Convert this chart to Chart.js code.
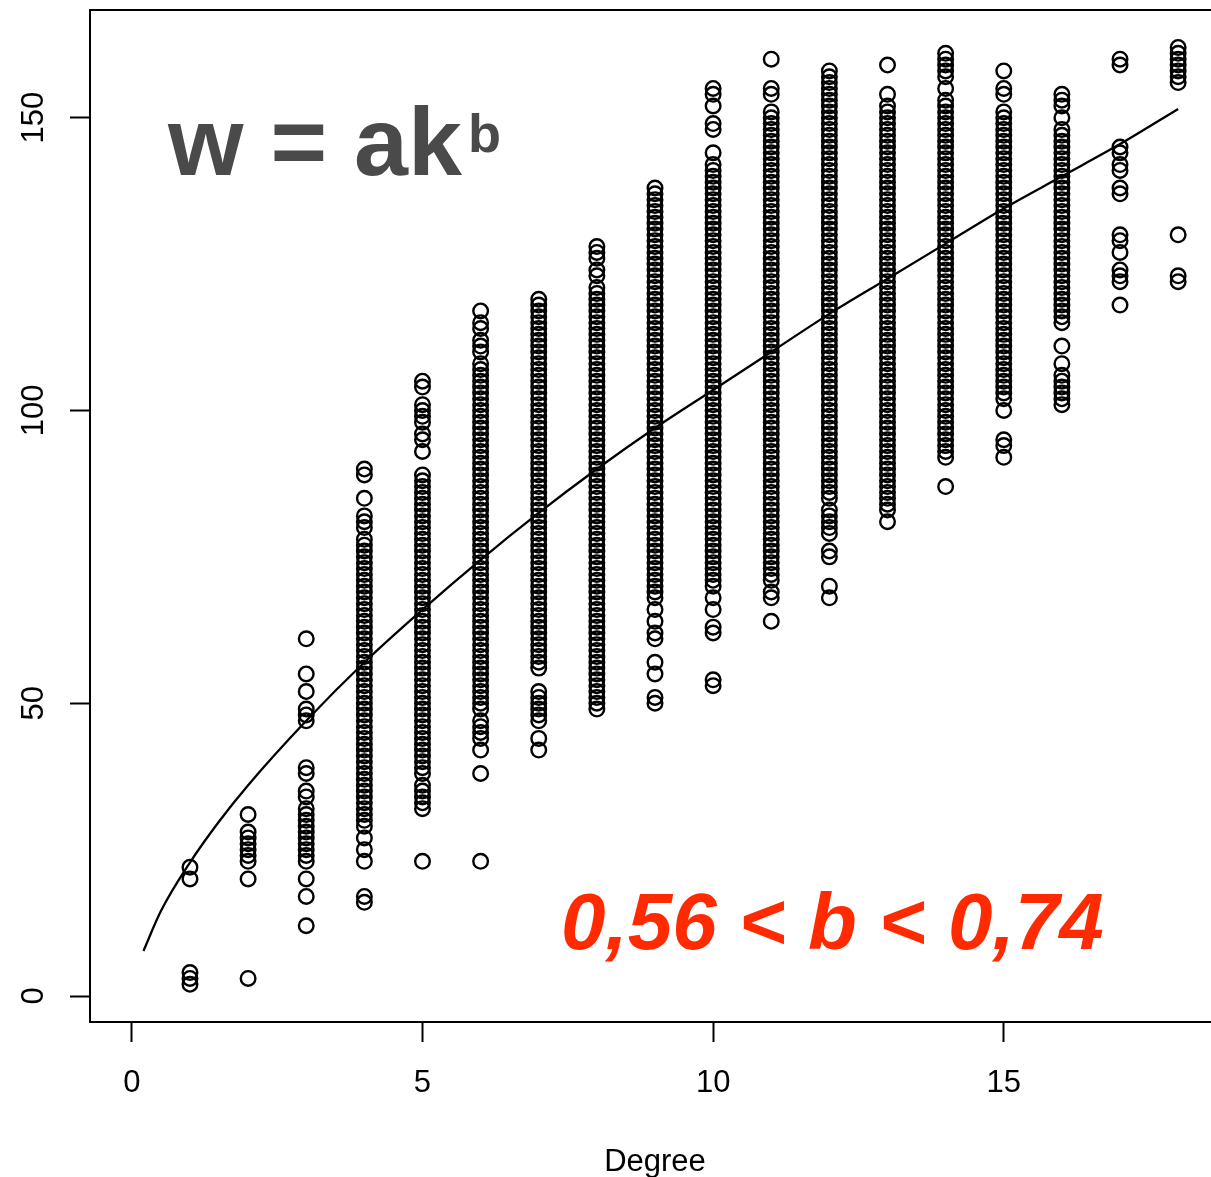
<!DOCTYPE html>
<html>
<head>
<meta charset="utf-8">
<script src="https://cdn.jsdelivr.net/npm/chart.js@4.4.1/dist/chart.umd.min.js"></script>
<style>
html, body { margin: 0; padding: 0; overflow: hidden; background: #fff; }
#wrap { width: 1232px; height: 1177px; }
</style>
</head>
<body>
<div id="wrap"><canvas id="myChart" width="1232" height="1177" style="width:1232px;height:1177px"></canvas></div>
<script>
// 차수(degree)별 가중치 값 - 그림에서 읽은 값
const deg1 = [22, 20, 4, 3, 2];
const deg2 = [31, 28, 27, 26, 25, 24, 23, 20, 3];
const deg3 = [61, 55, 52, 49, 48, 47, 39, 38, 35, 34, 32, 31, 30, 29, 28, 27, 26, 25, 24, 23, 20, 17, 12];
const deg4 = [90, 89, 85, 82, 81, 80, 78, 77, 76, 75, 74, 73, 72, 71, 70, 69, 68, 67, 66, 65, 64, 63, 62, 61, 60, 59, 58, 57, 56, 55, 54, 53, 52, 51, 50, 49, 48, 47, 46, 45, 44, 43, 42, 41, 40, 39, 38, 37, 36, 35, 34, 33, 32, 31, 30, 29, 27, 25, 23, 17, 16];
const deg5 = [105, 104, 101, 100, 99, 98, 96, 95, 93, 89, 88, 87, 86, 85, 84, 83, 82, 81, 80, 79, 78, 77, 76, 75, 74, 73, 72, 71, 70, 69, 68, 67, 66, 65, 64, 63, 62, 61, 60, 59, 58, 57, 56, 55, 54, 53, 52, 51, 50, 49, 48, 47, 46, 45, 44, 43, 42, 41, 40, 39, 38, 36, 35, 34, 33, 32, 23];
const deg6 = [117, 115, 114, 112, 111, 110, 108, 107, 106, 105, 104, 103, 102, 101, 100, 99, 98, 97, 96, 95, 94, 93, 92, 91, 90, 89, 88, 87, 86, 85, 84, 83, 82, 81, 80, 79, 78, 77, 76, 75, 74, 73, 72, 71, 70, 69, 68, 67, 66, 65, 64, 63, 62, 61, 60, 59, 58, 57, 56, 55, 54, 53, 52, 51, 50, 49, 47, 46, 45, 44, 42, 38, 23];
const deg7 = [119, 118, 117, 116, 115, 114, 113, 112, 111, 110, 109, 108, 107, 106, 105, 104, 103, 102, 101, 100, 99, 98, 97, 96, 95, 94, 93, 92, 91, 90, 89, 88, 87, 86, 85, 84, 83, 82, 81, 80, 79, 78, 77, 76, 75, 74, 73, 72, 71, 70, 69, 68, 67, 66, 65, 64, 63, 62, 61, 60, 59, 58, 57, 56, 52, 51, 50, 49, 48, 47, 44, 42];
const deg8 = [128, 127, 126, 124, 123, 121, 120, 119, 118, 117, 116, 115, 114, 113, 112, 111, 110, 109, 108, 107, 106, 105, 104, 103, 102, 101, 100, 99, 98, 97, 96, 95, 94, 93, 92, 91, 90, 89, 88, 87, 86, 85, 84, 83, 82, 81, 80, 79, 78, 77, 76, 75, 74, 73, 72, 71, 70, 69, 68, 67, 66, 65, 64, 63, 62, 61, 60, 59, 58, 57, 56, 55, 54, 53, 52, 51, 50, 49];
const deg9 = [138, 137, 136, 135, 134, 133, 132, 131, 130, 129, 128, 127, 126, 125, 124, 123, 122, 121, 120, 119, 118, 117, 116, 115, 114, 113, 112, 111, 110, 109, 108, 107, 106, 105, 104, 103, 102, 101, 100, 99, 98, 97, 96, 95, 94, 93, 92, 91, 90, 89, 88, 87, 86, 85, 84, 83, 82, 81, 80, 79, 78, 77, 76, 75, 74, 73, 72, 71, 70, 69, 68, 66, 64, 62, 61, 57, 55, 51, 50];
const deg10 = [155, 154, 152, 149, 148, 144, 142, 141, 140, 139, 138, 137, 136, 135, 134, 133, 132, 131, 130, 129, 128, 127, 126, 125, 124, 123, 122, 121, 120, 119, 118, 117, 116, 115, 114, 113, 112, 111, 110, 109, 108, 107, 106, 105, 104, 103, 102, 101, 100, 99, 98, 97, 96, 95, 94, 93, 92, 91, 90, 89, 88, 87, 86, 85, 84, 83, 82, 81, 80, 79, 78, 77, 76, 75, 74, 73, 72, 71, 70, 68, 66, 63, 62, 54, 53];
const deg11 = [160, 155, 154, 151, 150, 149, 148, 147, 146, 145, 144, 143, 142, 141, 140, 139, 138, 137, 136, 135, 134, 133, 132, 131, 130, 129, 128, 127, 126, 125, 124, 123, 122, 121, 120, 119, 118, 117, 116, 115, 114, 113, 112, 111, 110, 109, 108, 107, 106, 105, 104, 103, 102, 101, 100, 99, 98, 97, 96, 95, 94, 93, 92, 91, 90, 89, 88, 87, 86, 85, 84, 83, 82, 81, 80, 79, 78, 77, 76, 75, 74, 73, 72, 71, 69, 68, 64];
const deg12 = [158, 157, 156, 155, 154, 153, 152, 151, 150, 149, 148, 147, 146, 145, 144, 143, 142, 141, 140, 139, 138, 137, 136, 135, 134, 133, 132, 131, 130, 129, 128, 127, 126, 125, 124, 123, 122, 121, 120, 119, 118, 117, 116, 115, 114, 113, 112, 111, 110, 109, 108, 107, 106, 105, 104, 103, 102, 101, 100, 99, 98, 97, 96, 95, 94, 93, 92, 91, 90, 89, 88, 87, 86, 85, 83, 82, 81, 80, 79, 76, 75, 70, 68];
const deg13 = [159, 154, 152, 151, 150, 149, 148, 147, 146, 145, 144, 143, 142, 141, 140, 139, 138, 137, 136, 135, 134, 133, 132, 131, 130, 129, 128, 127, 126, 125, 124, 123, 122, 121, 120, 119, 118, 117, 116, 115, 114, 113, 112, 111, 110, 109, 108, 107, 106, 105, 104, 103, 102, 101, 100, 99, 98, 97, 96, 95, 94, 93, 92, 91, 90, 89, 88, 87, 86, 85, 84, 83, 81];
const deg14 = [161, 160, 159, 158, 157, 155, 153, 152, 151, 150, 149, 148, 147, 146, 145, 144, 143, 142, 141, 140, 139, 138, 137, 136, 135, 134, 133, 132, 131, 130, 129, 128, 127, 126, 125, 124, 123, 122, 121, 120, 119, 118, 117, 116, 115, 114, 113, 112, 111, 110, 109, 108, 107, 106, 105, 104, 103, 102, 101, 100, 99, 98, 97, 96, 95, 94, 93, 92, 87];
const deg15 = [158, 155, 154, 151, 150, 149, 148, 147, 146, 145, 144, 143, 142, 141, 140, 139, 138, 137, 136, 135, 134, 133, 132, 131, 130, 129, 128, 127, 126, 125, 124, 123, 122, 121, 120, 119, 118, 117, 116, 115, 114, 113, 112, 111, 110, 109, 108, 107, 106, 105, 104, 103, 102, 100, 95, 94, 92];
const deg16 = [154, 153, 152, 150, 148, 147, 146, 145, 144, 143, 142, 141, 140, 139, 138, 137, 136, 135, 134, 133, 132, 131, 130, 129, 128, 127, 126, 125, 124, 123, 122, 121, 120, 119, 118, 117, 116, 115, 111, 108, 106, 105, 104, 103, 102, 101];
const deg17 = [160, 159, 145, 144, 142, 141, 138, 137, 130, 129, 127, 124, 123, 122, 118];
const deg18 = [162, 161, 160, 159, 158, 157, 156, 130, 123, 122];

// 적합 곡선 w = a*k^b (그림에서 읽은 점)
const curveK = [0.2, 0.5, 1, 1.5, 2, 3, 4, 5, 6, 7, 8, 9, 10, 11, 12, 13, 14, 15, 16, 17, 18];
const curveW = [7.7, 14.5, 22.8, 29.8, 36, 47, 57, 66, 74.5, 82.5, 90, 97, 103.5, 110, 116.5, 122.5, 128.5, 134.5, 140, 145.5, 151.5];

// 축 눈금
const xTicks = [0, 5, 10, 15];
const yTicks = [0, 50, 100, 150];

const fontFamily = "'Liberation Sans', Arial, Helvetica, sans-serif";

const byDegree = [deg1, deg2, deg3, deg4, deg5, deg6, deg7, deg8, deg9, deg10, deg11, deg12, deg13, deg14, deg15, deg16, deg17, deg18];
let points = [];
for (let i = 0; i < byDegree.length; i++) {
	byDegree[i].forEach(v => points.push({ x: i + 1, y: v }));
}
let curve = [];
for (let i = 0; i < curveK.length; i++) {
	curve.push({ x: curveK[i], y: curveW[i] });
}

// 박스 + 글자
const boxPlugin = {
	id: 'box',
	afterDraw(chart) {
		const c = chart.ctx;
		const a = chart.chartArea;
		c.save();
		c.strokeStyle = '#000';
		c.lineWidth = 2;
		c.strokeRect(a.left, a.top, a.right - a.left, a.bottom - a.top);

		c.fillStyle = '#4a4a4a';
		c.textBaseline = 'alphabetic';
		c.textAlign = 'left';
		c.font = 'bold 97px ' + fontFamily;
		const main = 'w = ak';
		c.fillText(main, 168, 175);
		const w = c.measureText(main).width;
		c.font = 'bold 54px ' + fontFamily;
		c.fillText('b', 168 + w + 6, 152);

		c.fillStyle = '#ff2a00';
		c.font = 'italic bold 80px ' + fontFamily;
		c.fillText('0,56 < b < 0,74', 561, 949);
		c.restore();
	}
};

const ctx = document.getElementById('myChart');

new Chart(ctx, {
	type: 'scatter',
	data: {
		datasets: [{
			label: 'w',
			data: points,
			pointRadius: 7.3,
			pointHoverRadius: 7.3,
			pointBorderWidth: 2.4,
			pointBackgroundColor: 'rgba(0,0,0,0)',
			pointBorderColor: '#000'
		}, {
			label: 'fit',
			data: curve,
			showLine: true,
			pointRadius: 0,
			borderColor: '#000',
			borderWidth: 2.3,
			cubicInterpolationMode: 'monotone',
			fill: false
		}]
	},
	options: {
		responsive: false,
		animation: false,
		layout: { padding: { top: 10, right: 12, left: 0, bottom: 0 } },
		plugins: {
			legend: { display: false },
			tooltip: { enabled: false }
		},
		scales: {
			x: {
				type: 'linear',
				min: -0.72,
				max: 18.72,
				afterBuildTicks: s => { s.ticks = xTicks.map(v => ({ value: v })); },
				afterFit: s => { s.height = 155; s.paddingLeft = 0; s.paddingRight = 0; },
				grid: { drawOnChartArea: false, drawTicks: true, tickLength: 20, tickColor: '#000', tickWidth: 2 },
				border: { display: false },
				ticks: { color: '#000', font: { family: fontFamily, size: 31 }, padding: 23, maxRotation: 0, autoSkip: false },
				title: { display: true, text: 'Degree', color: '#000', font: { family: fontFamily, size: 31 }, padding: { top: 0, bottom: -4 } }
			},
			y: {
				type: 'linear',
				min: -4.44,
				max: 168.4,
				afterBuildTicks: s => { s.ticks = yTicks.map(v => ({ value: v })); },
				afterFit: s => { s.width = 90; s.paddingTop = 0; s.paddingBottom = 0; },
				grid: { drawOnChartArea: false, drawTicks: true, tickLength: 20, tickColor: '#000', tickWidth: 2 },
				border: { display: false },
				ticks: { color: '#000', font: { family: fontFamily, size: 31 }, padding: 10, minRotation: 90, maxRotation: 90, crossAlign: 'center', autoSkip: false }
			}
		}
	},
	plugins: [boxPlugin]
});
</script>
</body>
</html>
